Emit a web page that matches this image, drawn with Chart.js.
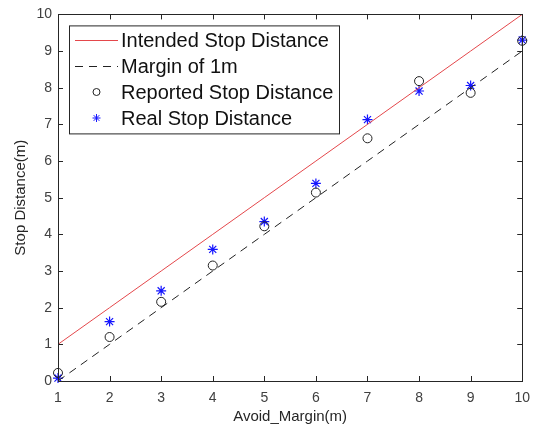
<!DOCTYPE html>
<html>
<head>
<meta charset="utf-8">
<script src="https://cdn.jsdelivr.net/npm/chart.js@4/dist/chart.umd.min.js"></script>
<style>
  body { margin: 0; background: #fff; }
  #wrap { width: 539px; height: 430px; position: relative; }
</style>
</head>
<body>
<div id="wrap"><canvas id="stopChart"></canvas></div>
<script>
// avoid margin (m) on the x axis
const avoidMargin = [1, 2, 3, 4, 5, 6, 7, 8, 9, 10];
// the two reference lines
const intendedStop = [1, 2, 3, 4, 5, 6, 7, 8, 9, 10];
const marginStop = [0, 1, 2, 3, 4, 5, 6, 7, 8, 9];
const reportedStop = [0.22, 1.20, 2.16, 3.15, 4.22, 5.14, 6.62, 8.18, 7.86, 9.28];
const realStop = [0.08, 1.62, 2.46, 3.59, 4.35, 5.39, 7.13, 7.91, 8.06, 9.30];
const xTicks = [1, 2, 3, 4, 5, 6, 7, 8, 9, 10];
const yTicks = [0, 1, 2, 3, 4, 5, 6, 7, 8, 9, 10];

const FONT = "'Liberation Sans', Arial, sans-serif";

function toPoints(ys) {
    return avoidMargin.map((x, i) => ({ x: x, y: ys[i] }));
}

// matlab-like box with inward ticks on all four sides
const boxPlugin = {
    id: "boxTicks",
    afterDatasetsDraw(chart) {
        const { ctx, chartArea: a, scales } = chart;
        const len = 5;
        ctx.save();
        ctx.strokeStyle = "#262626";
        ctx.lineWidth = 1;
        ctx.beginPath();
        xTicks.forEach(v => {
            const px = Math.round(scales.x.getPixelForValue(v)) + 0.5;
            ctx.moveTo(px, a.bottom); ctx.lineTo(px, a.bottom - len);
            ctx.moveTo(px, a.top); ctx.lineTo(px, a.top + len);
        });
        yTicks.forEach(v => {
            const py = Math.round(scales.y.getPixelForValue(v)) + 0.5;
            ctx.moveTo(a.left, py); ctx.lineTo(a.left + len, py);
            ctx.moveTo(a.right, py); ctx.lineTo(a.right - len, py);
        });
        ctx.stroke();
        ctx.strokeRect(Math.round(a.left) + 0.5, Math.round(a.top) + 0.5,
            Math.round(a.right - a.left), Math.round(a.bottom - a.top));
        ctx.restore();
    }
};

// legend box drawn inside the plot, top left
const legendPlugin = {
    id: "innerLegend",
    afterDraw(chart) {
        const { ctx, chartArea: a } = chart;
        const left = a.left + 11, top = a.top + 11, w = 270, h = 108;
        const rowH = 25.7;
        ctx.save();
        ctx.fillStyle = "#fff";
        ctx.fillRect(left, top, w, h);
        ctx.strokeStyle = "#262626";
        ctx.lineWidth = 1;
        ctx.strokeRect(left + 0.5, top + 0.5, w, h);
        ctx.font = "20px " + FONT;
        ctx.textBaseline = "middle";
        chart.data.datasets.forEach((ds, i) => {
            const y = Math.round(top + 15 + i * rowH);
            const x0 = left + 6, x1 = left + 49, xm = (x0 + x1) / 2;
            ctx.strokeStyle = ds.borderColor;
            ctx.fillStyle = ds.backgroundColor || "rgba(0,0,0,0)";
            ctx.lineWidth = 1;
            if (ds.showLine) {
                ctx.setLineDash(ds.borderDash || []);
                ctx.beginPath();
                ctx.moveTo(x0, y + 0.5); ctx.lineTo(x1, y + 0.5);
                ctx.stroke();
                ctx.setLineDash([]);
            } else {
                Chart.helpers.drawPoint(ctx, {
                    pointStyle: ds.pointStyle, radius: ds.pointRadius - 1, rotation: 0, borderWidth: 1
                }, xm, y);
            }
            ctx.fillStyle = "#111";
            ctx.fillText(ds.label, left + 52, y + 1);
        });
        ctx.restore();
    }
};

new Chart(document.getElementById("stopChart"), {
    type: "scatter",
    data: {
        datasets: [
            {
                label: "Intended Stop Distance",
                data: toPoints(intendedStop),
                showLine: true,
                borderColor: "#e4474b",
                borderWidth: 1,
                pointRadius: 0,
                clip: false
            },
            {
                label: "Margin of 1m",
                data: toPoints(marginStop),
                showLine: true,
                borderColor: "#222",
                borderWidth: 1,
                borderDash: [8, 6],
                pointRadius: 0,
                clip: false
            },
            {
                label: "Reported Stop Distance",
                data: toPoints(reportedStop),
                showLine: false,
                pointStyle: "circle",
                pointRadius: 4.5,
                borderColor: "#222",
                backgroundColor: "rgba(0,0,0,0)",
                pointBorderWidth: 1,
                clip: false
            },
            {
                label: "Real Stop Distance",
                data: toPoints(realStop),
                showLine: false,
                pointStyle: "star",
                pointRadius: 5,
                borderColor: "#1515ff",
                backgroundColor: "#1515ff",
                pointBorderWidth: 1.2,
                clip: false
            }
        ]
    },
    options: {
        responsive: true,
        maintainAspectRatio: false,
        animation: false,
        layout: { padding: { top: 11, right: 12, left: 0, bottom: 0 } },
        plugins: { legend: { display: false }, tooltip: { enabled: false } },
        scales: {
            x: {
                type: "linear",
                min: 1, max: 10,
                afterFit: s => { s.height = 49; },
                afterBuildTicks: s => { s.ticks = xTicks.map(v => ({ value: v })); },
                grid: { display: false, drawTicks: false },
                border: { display: false },
                ticks: { padding: 9, color: "#404040", font: { family: FONT, size: 14 } },
                title: {
                    display: true, text: "Avoid_Margin(m)", color: "#262626",
                    font: { family: FONT, size: 15 }, padding: { top: 0, bottom: 4 }
                }
            },
            y: {
                type: "linear",
                min: 0, max: 10,
                afterFit: s => { s.width = 58; },
                afterBuildTicks: s => { s.ticks = yTicks.map(v => ({ value: v })); },
                grid: { display: false, drawTicks: false },
                border: { display: false },
                ticks: { padding: 6, color: "#404040", font: { family: FONT, size: 14 } },
                title: {
                    display: true, text: "Stop Distance(m)", color: "#262626",
                    font: { family: FONT, size: 15 }, padding: { top: 12, bottom: 0 }
                }
            }
        }
    },
    plugins: [boxPlugin, legendPlugin]
});
</script>
</body>
</html>
